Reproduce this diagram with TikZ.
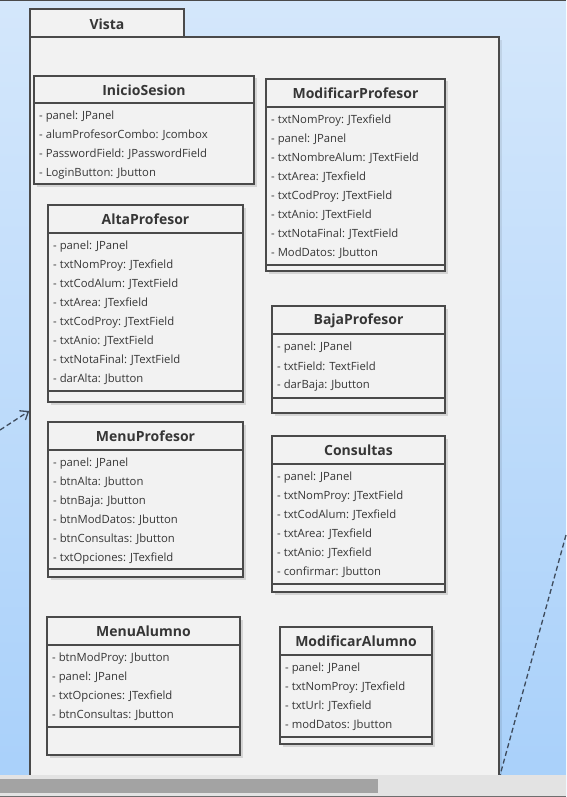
\documentclass[tikz,border=0pt]{standalone}
\usepackage{fontspec}
\setmainfont{Open Sans}
\usetikzlibrary{arrows.meta,shadows,fit}
\definecolor{ln}{HTML}{4A4A4A}
\definecolor{tx}{HTML}{363636}
\definecolor{bx}{HTML}{F2F2F2}
\definecolor{bgtop}{HTML}{D4E7FB}
\definecolor{bgbot}{HTML}{A8D0FA}
\definecolor{track}{HTML}{E3E3E3}
\definecolor{thumb}{HTML}{A3A3A3}
\definecolor{dashc}{HTML}{3E4B5C}
\tikzset{
 classbox/.style={draw=ln, line width=1.6pt, fill=bx, inner sep=0pt,
   drop shadow={shadow xshift=2.5pt, shadow yshift=-2.5pt, fill=black, opacity=0.12}},
 pkgbox/.style={draw=ln, line width=1.6pt, fill=bx, inner sep=0pt},
 divider/.style={draw=ln, line width=1.6pt},
 titlest/.style={font=\fontsize{14}{16}\selectfont\bfseries, text=tx, inner sep=0pt},
 attrst/.style={font=\fontsize{11.3}{13}\selectfont, text=tx, inner sep=0pt, anchor=west},
 depline/.style={draw=dashc, line width=1.3pt, dash pattern=on 5pt off 3pt},
}
\newcommand\umlcls[9]{%
 \node[classbox, fit={(#2,#3) (#4,#5)}] (#1) {};
 \draw[divider] (#2,#6) -- (#4,#6);
 \draw[divider] (#2,#7) -- (#4,#7);
 \node[titlest] (#1-t) at ({(#2+#4)/2},{(#3+#6)/2+0.5}) {#8};
 \foreach \a [count=\i] in {#9} \node[attrst] (#1-a\i) at (#2+5, {#6+13.5+(\i-1)*19}) {- \a};
}
\begin{document}
\begin{tikzpicture}[x=1pt,y=-1pt]
\useasboundingbox (0,0) rectangle (566,797);
\shade[top color=bgtop, bottom color=bgbot] (0,0) rectangle (566,797);
\draw[ln, line width=1.2pt] (0,0.5) -- (566,0.5);
% package Vista
\node[pkgbox, fit={(30,9) (184,37)}] (tab) {};
\node[pkgbox, fit={(30,37) (499,790)}, drop shadow={shadow xshift=3pt, shadow yshift=-3pt, fill=black, opacity=0.08}] (body) {};
\node[font=\fontsize{14}{16}\selectfont\bfseries, text=tx, inner sep=0pt] (vista) at (107,24) {Vista};
% classes
\umlcls{ini}{34}{76}{254}{184}{103}{184}{InicioSesion}{panel: JPanel, alumProfesorCombo: Jcombox, PasswordField: JPasswordField, LoginButton: Jbutton}
\umlcls{modp}{266}{79}{445}{271}{107}{265}{ModificarProfesor}{txtNomProy: JTexfield, panel: JPanel, txtNombreAlum: JTextField, txtArea: JTexfield, txtCodProy: JTextField, txtAnio: JTextField, txtNotaFinal: JTextField, ModDatos: Jbutton}
\umlcls{alta}{48}{205}{243}{402}{233}{391}{AltaProfesor}{panel: JPanel, txtNomProy: JTexfield, txtCodAlum: JTextField, txtArea: JTexfield, txtCodProy: JTextField, txtAnio: JTextField, txtNotaFinal: JTextField, darAlta: Jbutton}
\umlcls{baja}{272}{306}{445}{413}{334}{398}{BajaProfesor}{panel: JPanel, txtField: TextField, darBaja: Jbutton}
\umlcls{menup}{48}{422}{243}{577}{450}{569}{MenuProfesor}{panel: JPanel, btnAlta: Jbutton, btnBaja: Jbutton, btnModDatos: Jbutton, btnConsultas: Jbutton, txtOpciones: JTexfield}
\umlcls{cons}{272}{436}{445}{592}{464}{584}{Consultas}{panel: JPanel, txtNomProy: JTextField, txtCodAlum: JTexfield, txtArea: JTexfield, txtAnio: JTexfield, confirmar: Jbutton}
\umlcls{menua}{47}{617}{240}{755}{645}{727}{MenuAlumno}{btnModProy: Jbutton, panel: JPanel, txtOpciones: JTexfield, btnConsultas: Jbutton}
\umlcls{moda}{280}{627}{432}{744}{655}{737}{ModificarAlumno}{panel: JPanel, txtNomProy: JTexfield, txtUrl: JTexfield, modDatos: Jbutton}
% dependency lines
\coordinate (l0) at (0,430);
\coordinate (la) at (body.west |- 0,411);
\draw[depline, -{Straight Barb[length=7pt,width=11pt,line width=1.3pt]}] (l0) -- (la);
\coordinate (r0) at (566,535);
\coordinate (r1) at (body.east |- 0,776);
\draw[depline] (r0) -- (r1);
% scrollbar
\fill[track] (0,775) rectangle (566,797);
\node[fill=thumb, inner sep=0pt, fit={(0,779) (378,793)}] (thumb) {};
\draw[ln!80, line width=1pt] (0,796.5) -- (566,796.5);
\end{tikzpicture}
\end{document}
